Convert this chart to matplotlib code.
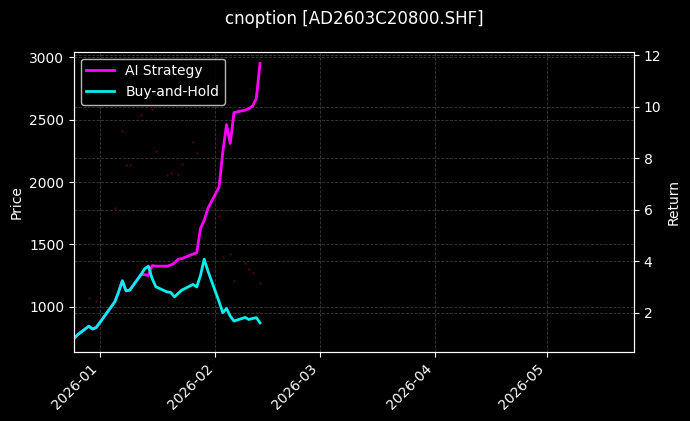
import matplotlib
matplotlib.use("Agg")
import matplotlib.pyplot as plt
import matplotlib.dates as mdates
import pandas as pd

dates = ["2025-12-25", "2025-12-26", "2025-12-29", "2025-12-30", "2025-12-31",
         "2026-01-05", "2026-01-06", "2026-01-07", "2026-01-08", "2026-01-09",
         "2026-01-12", "2026-01-13", "2026-01-14", "2026-01-15", "2026-01-16",
         "2026-01-19", "2026-01-20", "2026-01-21", "2026-01-22", "2026-01-23",
         "2026-01-26", "2026-01-27", "2026-01-28", "2026-01-29", "2026-01-30",
         "2026-02-02", "2026-02-03", "2026-02-04", "2026-02-05", "2026-02-06",
         "2026-02-09", "2026-02-10", "2026-02-11", "2026-02-12", "2026-02-13"]

buy_hold = [1.00, 1.15, 1.48, 1.37, 1.43,
            2.43, 2.81, 3.24, 2.85, 2.88,
            3.48, 3.71, 3.81, 3.33, 3.01,
            2.81, 2.79, 2.62, 2.75, 2.88,
            3.10, 3.00, 3.45, 4.08, 3.62,
            2.43, 2.00, 2.17, 1.87, 1.68,
            1.82, 1.74, 1.78, 1.81, 1.61]

strategy = [1.00, 1.15, 1.48, 1.37, 1.43,
            2.43, 2.81, 3.24, 2.85, 2.88,
            3.48, 3.48, 3.45, 3.83, 3.81,
            3.81, 3.85, 3.93, 4.08, 4.10,
            4.28, 4.33, 5.27, 5.59, 6.05,
            6.88, 8.24, 9.30, 8.57, 9.77,
            9.86, 9.92, 10.02, 10.31, 11.67]

price_dates = ["2025-12-29", "2025-12-31", "2026-01-05", "2026-01-07", "2026-01-08",
               "2026-01-09", "2026-01-12", "2026-01-15", "2026-01-16", "2026-01-19",
               "2026-01-20", "2026-01-22", "2026-01-23", "2026-01-26", "2026-01-27",
               "2026-02-02", "2026-02-03", "2026-02-05", "2026-02-06", "2026-02-09",
               "2026-02-10", "2026-02-11", "2026-02-13"]
price = [1070, 1046, 1792, 2409, 2137,
         2137, 2537, 2585, 2248, 2056,
         2072, 2064, 2144, 2320, 2232,
         1727, 1399, 1423, 1207, 1351,
         1303, 1271, 1191]

title = "cnoption [AD2603C20800.SHF]"

plt.style.use("dark_background")
fig = plt.figure(figsize=(6.9, 4.21), dpi=100)
ax = fig.add_axes([0.1072, 0.1646, 0.8116, 0.7126])
ax2 = ax.twinx()

d = pd.to_datetime(dates)
pdts = pd.to_datetime(price_dates)

ax.scatter(pdts, price, s=3, color="#7a0c0c", alpha=0.6, linewidths=0, zorder=1)
ax.set_ylim(639, 3045)
ax.set_ylabel("Price")
ax.grid(True, linestyle="--", linewidth=0.6, color="#555555", alpha=0.7)

ax2.plot(d, strategy, color="#ff00ff", linewidth=2, label="AI Strategy")
ax2.plot(d, buy_hold, color="#00f0f0", linewidth=2, label="Buy-and-Hold")
ax2.set_ylim(0.49, 12.13)
ax2.set_ylabel("Return")
ax2.grid(True, linestyle="--", linewidth=0.6, color="#555555", alpha=0.7)
ax2.legend(loc="upper left", framealpha=0.9, edgecolor="#cccccc")

ax.set_xlim(pd.Timestamp("2025-12-25"), pd.Timestamp("2026-05-24 12:00"))
ax.xaxis.set_major_locator(mdates.MonthLocator())
ax.xaxis.set_major_formatter(mdates.DateFormatter("%Y-%m"))
for lbl in ax.get_xticklabels():
    lbl.set_rotation(45)
    lbl.set_ha("right")

ax.set_title(title, fontsize=12, pad=20)

fig.savefig("out.png", dpi=100)
